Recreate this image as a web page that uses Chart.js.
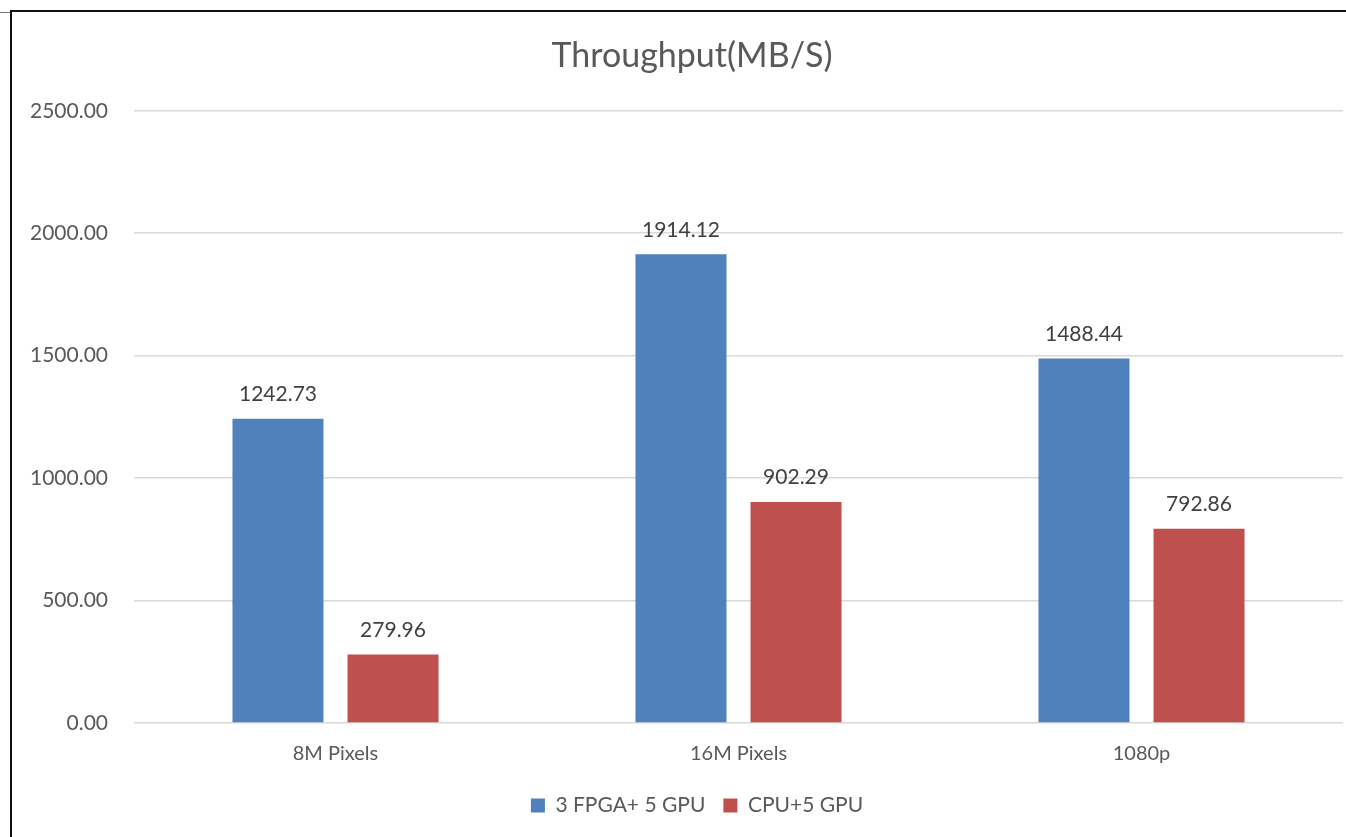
<!DOCTYPE html>
<html>
<head>
<meta charset="utf-8">
<script src="https://cdn.jsdelivr.net/npm/chart.js@4/dist/chart.umd.min.js"></script>
<style>
  html, body { margin: 0; padding: 0; background: #fff; overflow: hidden; width: 1346px; height: 837px; }
  #stub { position: absolute; left: 0; top: 12px; width: 11px; height: 1px; background: #777; }
  #frame { position: absolute; left: 10px; top: 10px; width: 1336px; height: 827px;
           border-top: 2px solid #111; border-left: 2px solid #111; box-sizing: border-box; }
  #wrap { position: absolute; left: 13px; top: 13px; width: 1333px; height: 824px; }
</style>
</head>
<body>
<div id="stub"></div>
<div id="frame"></div>
<div id="wrap"><canvas id="c"></canvas></div>
<script>
const categories = ['8M Pixels', '16M Pixels', '1080p'];
const fpgaGpu = [1242.73, 1914.12, 1488.44];
const cpuGpu = [279.96, 902.29, 792.86];
const seriesNames = ['3 FPGA+ 5 GPU', 'CPU+5 GPU'];
const yTicks = [0, 500, 1000, 1500, 2000, 2500];

const FONT = 'Lato, "Open Sans", sans-serif';

// Title and legend sit centred on the whole chart frame rather than the plot box.
const centreBlocks = {
  id: 'centreBlocks',
  afterLayout(chart) {
    if (chart.titleBlock) { chart.titleBlock.left += 14; chart.titleBlock.right += 14; }
    if (chart.legend) { chart.legend.left += 19; chart.legend.right += 19; }
  }
};

// Writes each bar's value just above its top.
const valueLabels = {
  id: 'valueLabels',
  afterDatasetsDraw(chart) {
    const ctx = chart.ctx;
    ctx.save();
    ctx.font = '21px ' + FONT;
    ctx.fillStyle = '#404040';
    ctx.textAlign = 'center';
    ctx.textBaseline = 'bottom';
    chart.data.datasets.forEach((ds, i) => {
      chart.getDatasetMeta(i).data.forEach((bar, j) => {
        ctx.fillText(ds.data[j].toFixed(2), bar.x, bar.y - 14);
      });
    });
    ctx.restore();
  }
};

new Chart(document.getElementById('c'), {
  type: 'bar',
  data: {
    labels: categories,
    datasets: [
      { label: seriesNames[0], data: fpgaGpu, backgroundColor: '#4F81BD' },
      { label: seriesNames[1], data: cpuGpu, backgroundColor: '#C0504D' }
    ]
  },
  options: {
    responsive: true,
    maintainAspectRatio: false,
    animation: false,
    layout: { padding: { left: 0, right: 3, top: 0, bottom: 11 } },
    datasets: { bar: { categoryPercentage: 0.571, barPercentage: 0.791 } },
    plugins: {
      title: {
        display: true,
        text: 'Throughput(MB/S)',
        color: '#595959',
        font: { family: FONT, size: 34, weight: 'normal' },
        padding: { top: 23, bottom: 34 }
      },
      legend: {
        position: 'bottom',
        labels: {
          color: '#595959',
          font: { family: FONT, size: 21 },
          boxWidth: 14,
          boxHeight: 14,
          padding: 18
        }
      },
      tooltip: { enabled: false }
    },
    scales: {
      x: {
        grid: { display: false },
        border: { display: false },
        ticks: { color: '#595959', font: { family: FONT, size: 20 }, padding: 11 }
      },
      y: {
        min: 0,
        max: 2500,
        afterBuildTicks(axis) { axis.ticks = yTicks.map(v => ({ value: v })); },
        afterFit(axis) { axis.width = 121; },
        grid: { color: '#D9D9D9', lineWidth: 1.5, drawTicks: false },
        border: { display: false },
        ticks: {
          color: '#595959',
          font: { family: FONT, size: 21 },
          padding: 26,
          callback: v => Number(v).toFixed(2)
        }
      }
    }
  },
  plugins: [centreBlocks, valueLabels]
});
</script>
</body>
</html>
